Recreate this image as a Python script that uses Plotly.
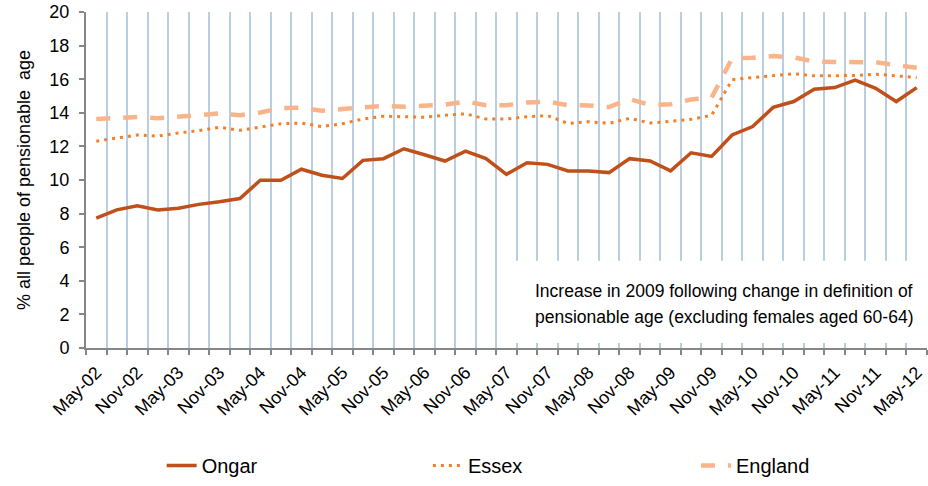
import plotly.graph_objects as go

quarters = [
    "May-02", "Aug-02", "Nov-02", "Feb-03", "May-03", "Aug-03", "Nov-03", "Feb-04",
    "May-04", "Aug-04", "Nov-04", "Feb-05", "May-05", "Aug-05", "Nov-05", "Feb-06",
    "May-06", "Aug-06", "Nov-06", "Feb-07", "May-07", "Aug-07", "Nov-07", "Feb-08",
    "May-08", "Aug-08", "Nov-08", "Feb-09", "May-09", "Aug-09", "Nov-09", "Feb-10",
    "May-10", "Aug-10", "Nov-10", "Feb-11", "May-11", "Aug-11", "Nov-11", "Feb-12",
    "May-12",
]
tick_labels = [q if q.startswith(("May", "Nov")) else "" for q in quarters]

ongar = [7.73, 8.22, 8.46, 8.22, 8.32, 8.55, 8.71, 8.90, 9.99, 9.99,
         10.64, 10.28, 10.09, 11.17, 11.27, 11.86, 11.50, 11.13, 11.72, 11.27,
         10.34, 11.03, 10.93, 10.54, 10.54, 10.44, 11.27, 11.13, 10.54, 11.62,
         11.40, 12.68, 13.18, 14.32, 14.67, 15.40, 15.50, 15.95, 15.46, 14.67,
         15.50]
essex = [12.31, 12.49, 12.68, 12.61, 12.80, 12.94, 13.14, 12.96, 13.16, 13.35,
         13.39, 13.18, 13.35, 13.63, 13.80, 13.75, 13.73, 13.86, 13.94, 13.63,
         13.63, 13.77, 13.83, 13.37, 13.47, 13.37, 13.67, 13.39, 13.49, 13.61,
         13.85, 15.97, 16.10, 16.22, 16.32, 16.20, 16.20, 16.22, 16.30, 16.20,
         16.10]
england = [13.63, 13.67, 13.75, 13.67, 13.79, 13.86, 13.96, 13.86, 14.02, 14.28,
           14.30, 14.12, 14.22, 14.30, 14.41, 14.36, 14.40, 14.49, 14.67, 14.45,
           14.45, 14.61, 14.67, 14.45, 14.44, 14.34, 14.81, 14.47, 14.51, 14.79,
           14.90, 17.25, 17.27, 17.38, 17.30, 17.05, 17.03, 17.03, 17.01, 16.83,
           16.68]

FONT = "Liberation Sans, Arial, sans-serif"
AXIS_GREY = "#868686"

fig = go.Figure()
fig.add_trace(go.Scatter(x=quarters, y=ongar, name="Ongar", mode="lines", legend="legend",
                         line=dict(color="#C0501A", width=3.5)))
fig.add_trace(go.Scatter(x=quarters, y=essex, name="Essex", mode="lines", legend="legend2",
                         line=dict(color="#F47F24", width=3, dash="3px,5px")))
fig.add_trace(go.Scatter(x=quarters, y=england, name="England", mode="lines", legend="legend3",
                         line=dict(color="#FAB48A", width=4.5, dash="14px,13px")))

leg_common = dict(orientation="h", xanchor="center", y=-0.35, yanchor="middle",
                  font=dict(size=20), bgcolor="rgba(0,0,0,0)")

fig.update_layout(
    width=928, height=486,
    margin=dict(l=86, r=1, t=12, b=135),
    paper_bgcolor="white", plot_bgcolor="white",
    font=dict(family=FONT, color="black", size=18),
    showlegend=True,
    legend=dict(x=0.15, **leg_common),
    legend2=dict(x=0.466, **leg_common),
    legend3=dict(x=0.796, **leg_common),
    xaxis=dict(
        type="category", range=[-0.5, 40.5], automargin=False,
        tickmode="array", tickvals=quarters, ticktext=tick_labels,
        tickson="boundaries", tickangle=-45, ticklabelstandoff=5,
        showgrid=True, gridcolor="#B9CDE5", gridwidth=1.5,
        ticks="outside", ticklen=5, tickwidth=1.5, tickcolor=AXIS_GREY,
        showline=True, linecolor=AXIS_GREY, linewidth=2,
        tickfont=dict(size=18),
    ),
    yaxis=dict(
        range=[0, 20], dtick=2, showgrid=False, zeroline=False, automargin=False,
        ticks="outside", ticklen=5, tickwidth=1.5, tickcolor=AXIS_GREY,
        showline=True, linecolor=AXIS_GREY, linewidth=2,
        tickfont=dict(size=18), ticklabelstandoff=6,
        title=dict(text="% all people of pensionable  age", font=dict(size=18), standoff=14),
    ),
)

fig.add_shape(type="rect", xref="paper", yref="y", x0=0.502, x1=1.0, y0=0.3, y1=5.2,
              fillcolor="white", line=dict(width=0), layer="above")
fig.add_annotation(xref="paper", yref="y", x=0.5315, y=3.42, xanchor="left", yanchor="middle",
                   text="Increase in 2009 following change in definition of",
                   showarrow=False, font=dict(size=17.5))
fig.add_annotation(xref="paper", yref="y", x=0.5315, y=1.83, xanchor="left", yanchor="middle",
                   text="pensionable age (excluding females aged 60-64)",
                   showarrow=False, font=dict(size=17.5))

fig.write_html("out.html", config={"displayModeBar": False},
               post_script="document.body.style.margin='0';document.body.style.overflow='hidden';")
